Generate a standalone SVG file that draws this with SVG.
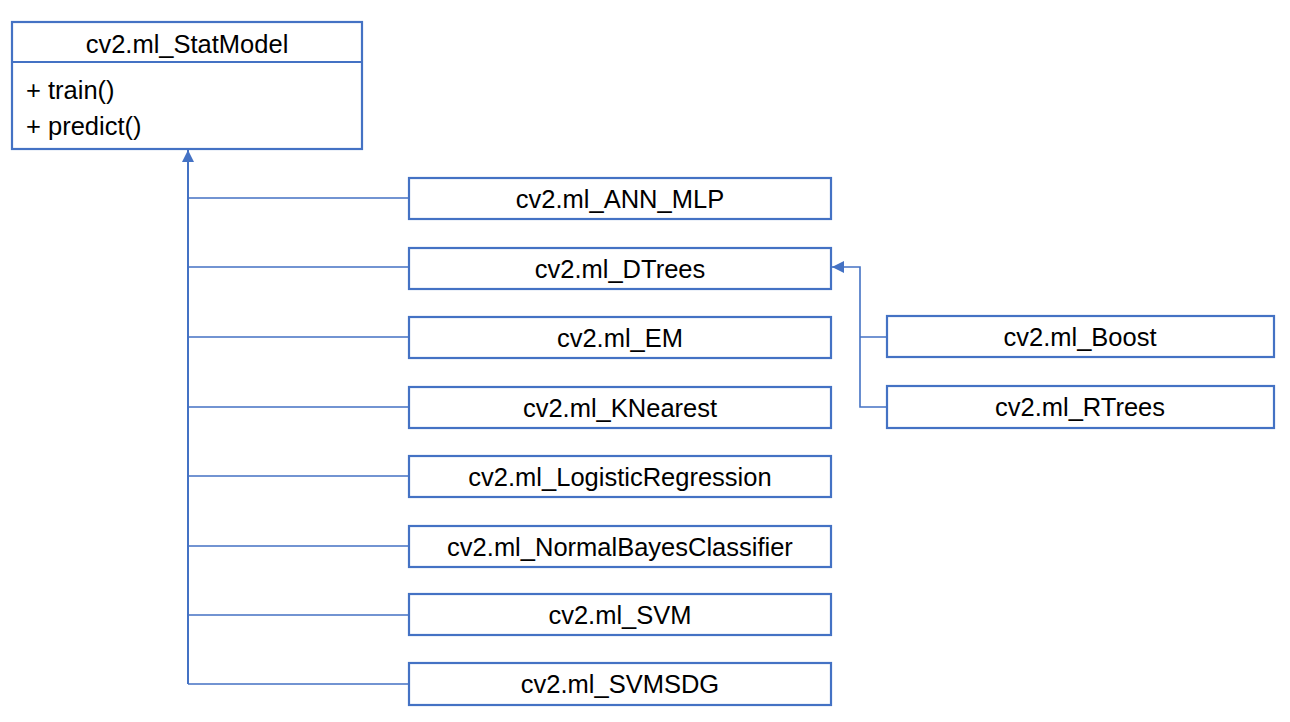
<svg xmlns="http://www.w3.org/2000/svg" width="1290" height="722" viewBox="0 0 1290 722">
<style>
.box{fill:#fff;stroke:#4472C4;stroke-width:2.2}
.t{font-family:"Liberation Sans",Arial,sans-serif;font-size:25.5px;fill:#000}
.c{text-anchor:middle}
.ln{fill:none;stroke:#4472C4;stroke-width:1.6}
.main{fill:none;stroke:#4472C4;stroke-width:2}
</style>
<defs>
<marker id="tri" viewBox="0 0 12 12" refX="12" refY="6" markerWidth="12" markerHeight="12" markerUnits="userSpaceOnUse" orient="auto">
<path d="M0,0 L12,6 L0,12 z" fill="#4472C4"/>
</marker>
</defs>
<rect width="1290" height="722" fill="#fff"/>
<g id="connectors">
<line class="main" x1="188" y1="684" x2="188" y2="150" marker-end="url(#tri)"/>
<path class="ln" d="M188,198 H409 M188,267 H409 M188,337 H409 M188,407 H409 M188,476 H409 M188,546 H409 M188,615 H409 M188,684 H409"/>
<path class="ln" d="M887,407 H860 V337 H887 M860,337 V267 H832" marker-end="url(#tri)"/>
</g>
<g id="StatModel">
<rect class="box" x="12" y="22" width="350" height="127"/>
<line class="box" x1="12" y1="62" x2="362" y2="62"/>
<text class="t c" x="187" y="53">cv2.ml_StatModel</text>
<text class="t" x="26" y="99">+ train()</text>
<text class="t" x="26" y="135">+ predict()</text>
</g>
<g id="ANN_MLP"><rect class="box" x="409" y="178" width="422" height="41"/><text class="t c" x="620" y="208">cv2.ml_ANN_MLP</text></g>
<g id="DTrees"><rect class="box" x="409" y="248" width="422" height="41"/><text class="t c" x="620" y="278">cv2.ml_DTrees</text></g>
<g id="EM"><rect class="box" x="409" y="317" width="422" height="41"/><text class="t c" x="620" y="347">cv2.ml_EM</text></g>
<g id="KNearest"><rect class="box" x="409" y="387" width="422" height="41"/><text class="t c" x="620" y="417">cv2.ml_KNearest</text></g>
<g id="LogisticRegression"><rect class="box" x="409" y="456" width="422" height="41"/><text class="t c" x="620" y="486">cv2.ml_LogisticRegression</text></g>
<g id="NormalBayesClassifier"><rect class="box" x="409" y="526" width="422" height="41"/><text class="t c" x="620" y="556">cv2.ml_NormalBayesClassifier</text></g>
<g id="SVM"><rect class="box" x="409" y="594" width="422" height="41"/><text class="t c" x="620" y="624">cv2.ml_SVM</text></g>
<g id="SVMSDG"><rect class="box" x="409" y="663" width="422" height="42"/><text class="t c" x="620" y="693">cv2.ml_SVMSDG</text></g>
<g id="Boost"><rect class="box" x="887" y="316" width="387" height="41"/><text class="t c" x="1080" y="346">cv2.ml_Boost</text></g>
<g id="RTrees"><rect class="box" x="887" y="386" width="387" height="42"/><text class="t c" x="1080" y="416">cv2.ml_RTrees</text></g>
</svg>
